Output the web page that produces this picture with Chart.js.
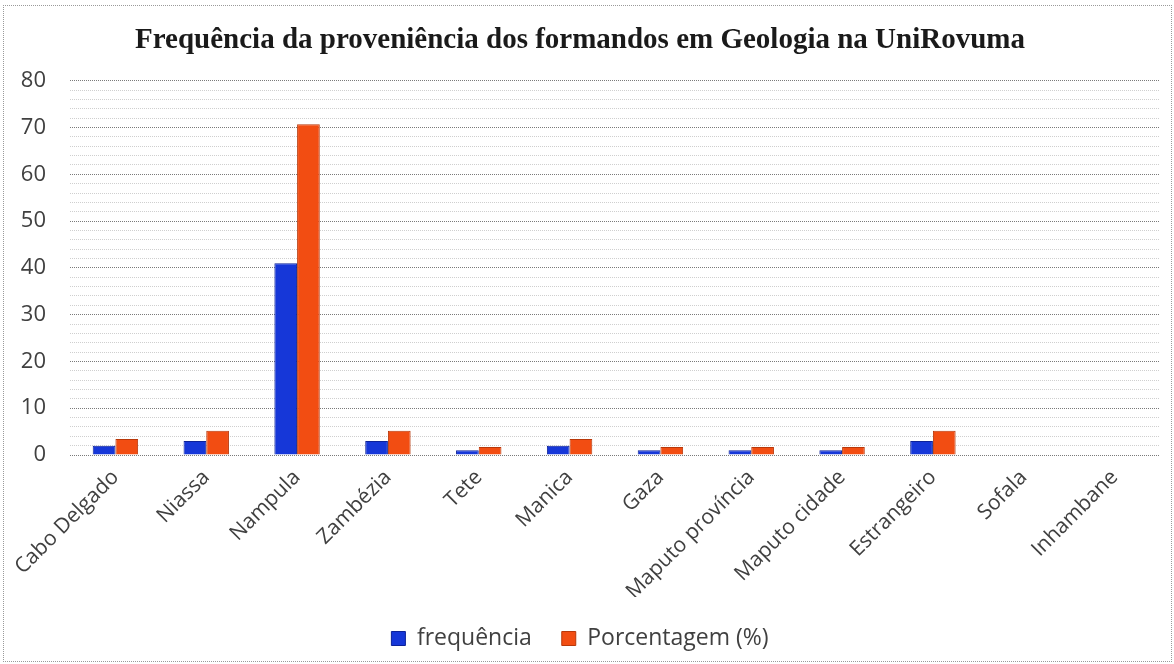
<!DOCTYPE html>
<html>
<head>
<meta charset="utf-8">
<script src="https://cdn.jsdelivr.net/npm/chart.js@4"></script>
<style>
  html, body { margin: 0; padding: 0; background: #fff; }
  #wrap { position: relative; width: 1174px; height: 664px; }
  #frame { position: absolute; left: 3px; top: 5px; right: 2px; bottom: 2px; border: 1px dotted #9a9a9a; pointer-events: none; }
</style>
</head>
<body>
<div id="wrap">
  <canvas id="chart" width="1174" height="664"></canvas>
  <div id="frame"></div>
</div>
<script>
const provincias = ['Cabo Delgado', 'Niassa', 'Nampula', 'Zambézia', 'Tete', 'Manica', 'Gaza',
  'Maputo província', 'Maputo cidade', 'Estrangeiro', 'Sofala', 'Inhambane'];
const frequencia = [2, 3, 41, 3, 1, 2, 1, 1, 1, 3, 0, 0];
const porcentagem = [3.4, 5.2, 70.7, 5.2, 1.7, 3.4, 1.7, 1.7, 1.7, 5.2, 0, 0];
const yMax = 80;

new Chart(document.getElementById('chart').getContext('2d'), {
  type: 'bar',
  data: {
    labels: provincias,
    datasets: [
      { label: 'frequência', data: frequencia, backgroundColor: '#1637d8', borderColor: '#0d2299', borderWidth: 1 },
      { label: 'Porcentagem (%)', data: porcentagem, backgroundColor: '#f24d12', borderColor: '#b8380a', borderWidth: 1 }
    ]
  },
  options: {
    responsive: false,
    animation: false,
    layout: { padding: { left: 0, right: 14, top: 0, bottom: 4 } },
    datasets: { bar: { categoryPercentage: 0.5, barPercentage: 1 } },
    plugins: {
      title: {
        display: true,
        text: 'Frequência da proveniência dos formandos em Geologia na UniRovuma',
        color: '#1a1a1a',
        font: { family: 'Liberation Serif', size: 29, weight: 'bold' },
        padding: { top: 23, bottom: 23 }
      },
      legend: {
        position: 'bottom',
        labels: {
          color: '#404040',
          font: { family: 'Open Sans', size: 23 },
          boxWidth: 14, boxHeight: 14, padding: 30
        }
      },
      tooltip: { enabled: false }
    },
    scales: {
      x: {
        grid: { display: false },
        border: { display: false },
        ticks: {
          color: '#404040', font: { family: 'Open Sans', size: 21 },
          autoSkip: false, maxRotation: 45, minRotation: 45, padding: 2
        },
        afterFit: s => { s.height = 142; }
      },
      y: {
        min: 0, max: yMax,
        border: { display: false, dash: [1, 1] },
        grid: {
          drawTicks: false,
          color: c => (c.tick.value % 10 === 0 ? '#7a7a7a' : '#cfcfcf'),
          lineWidth: 1
        },
        ticks: {
          autoSkip: false, stepSize: 2, padding: 24, color: '#404040',
          font: { family: 'Open Sans', size: 22 },
          callback: v => (v % 10 === 0 ? v : '')
        },
        afterFit: s => { s.width = 70; }
      }
    }
  }
});
</script>
</body>
</html>
